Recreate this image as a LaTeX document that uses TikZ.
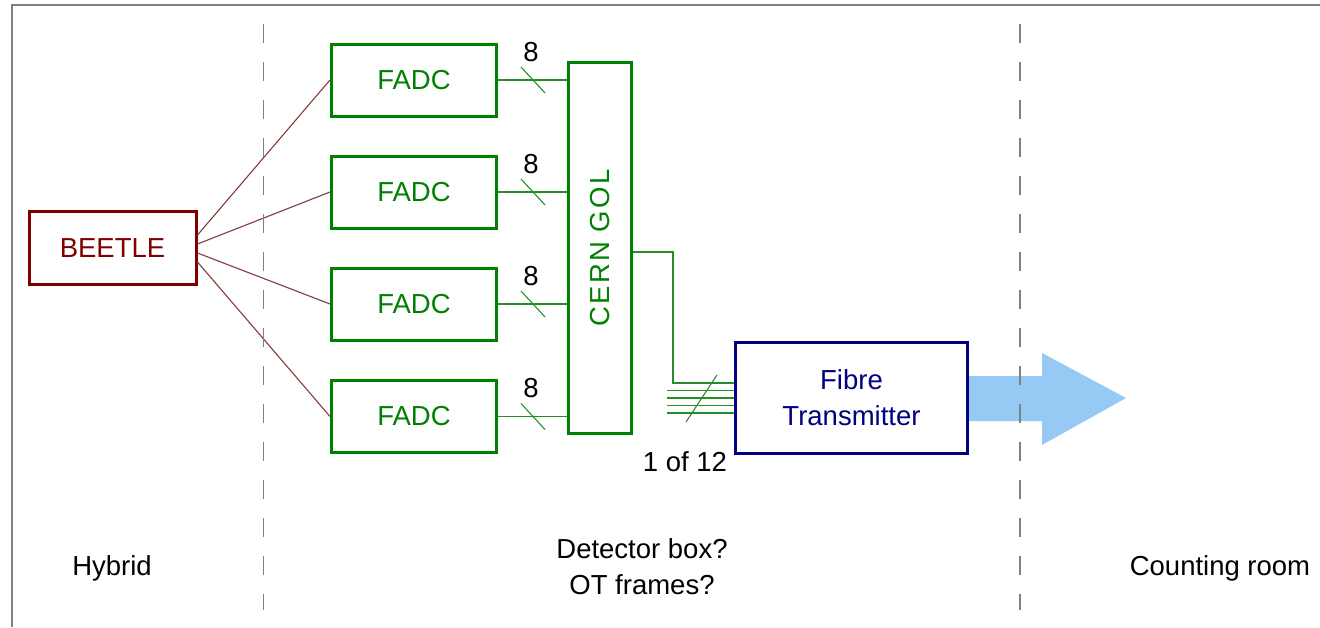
\documentclass[tikz,border=0pt]{standalone}
\usepackage{fontspec}
\setmainfont{Liberation Sans}
\usetikzlibrary{calc}
\definecolor{beetlered}{RGB}{128,0,0}
\definecolor{wirered}{RGB}{130,60,60}
\definecolor{boxgreen}{RGB}{0,128,0}
\definecolor{busgreen}{RGB}{40,140,40}
\definecolor{fibreblue}{RGB}{0,0,128}
\definecolor{arrowblue}{RGB}{150,202,245}
\definecolor{framegray}{RGB}{128,128,128}
\begin{document}
\begin{tikzpicture}[x=1pt,y=-1pt,
        every node/.style={font=\fontsize{27.5}{36}\selectfont, inner sep=0pt},
        fadcbox/.style={draw=boxgreen, line width=3pt, text=boxgreen, minimum width=165, minimum height=72},
        wire/.style={draw=wirered, line width=1.1pt},
        bus/.style={draw=busgreen, line width=1.1pt},
        border/.style={dash pattern=on 19pt off 19pt, draw=framegray, line width=1.5pt}]
        \useasboundingbox (0,0) rectangle (1320,627);
        \draw[framegray, line width=1.5pt] (12,627) -- (12,5) -- (1320,5);
        % read-out boxes
        \node[draw=beetlered, line width=3pt, text=beetlered, minimum width=167, minimum height=73] (beetle) at (112.5,248) {BEETLE};
        \foreach \i/\y in {1/80,2/192,3/304,4/416.5}
            \node[fadcbox] (fadc\i) at (414,\y) {FADC};
        \node[draw=boxgreen, line width=3pt, minimum width=63, minimum height=371] (gol) at (600,248) {};
        \node[rotate=90, text=boxgreen] (goltext) at (gol.center) {\addfontfeature{LetterSpace=8}CERN GOL};
        \fill[arrowblue] (969,376) -- (1042,376) -- (1042,353) -- (1126,398) -- (1042,445) -- (1042,421) -- (969,421) -- cycle;
        \node[draw=fibreblue, line width=3pt, text=fibreblue, minimum width=232, minimum height=111, align=center] (fibre) at (851.5,398) {Fibre\\Transmitter};
        % beetle to fadc
        \foreach \i/\dy in {1/-13,2/-4,3/5,4/14}
            \draw[wire] ($(beetle.east)+(0,\dy)$) -- (fadc\i.west);
        % 8 bit busses
        \foreach \i in {1,...,4} {
            \draw[bus] (fadc\i.east) -- (fadc\i.east -| gol.west);
            \draw[bus] ($(fadc\i.east)+(23,-13)$) -- ++(24,26);
            \node (eight\i) at ($(fadc\i.east)+(33,-28)$) {8};
        }
        % gol to transmitter
        \coordinate (tap) at (673,383);
        \coordinate (tapend) at (tap -| fibre.west);
        \draw[bus] ($(gol.east)+(0,4)$) -| (tap) -- (tapend);
        \foreach \dy in {7.5,15,22.5,30}
            \draw[bus] ($(tap)+(-6,\dy)$) -- ($(tapend)+(0,\dy)$);
        \draw[bus] ($(tap)+(44,-8)$) -- ($(tap)+(13,39)$);
        \node (fibrecount) at (685,462) {1 of 12};
        % zone borders
        \draw[border] (263.5,24) -- (263.5,610);
        \draw[border] (1020,24) -- (1020,610);
        \node (hybrid) at (112,568) {Hybrid};
        \node[align=center] (detbox) at (642,567) {Detector box?\\OT frames?};
        \node (counting) at (1220,568) {Counting room};
    \end{tikzpicture}
\end{document}
